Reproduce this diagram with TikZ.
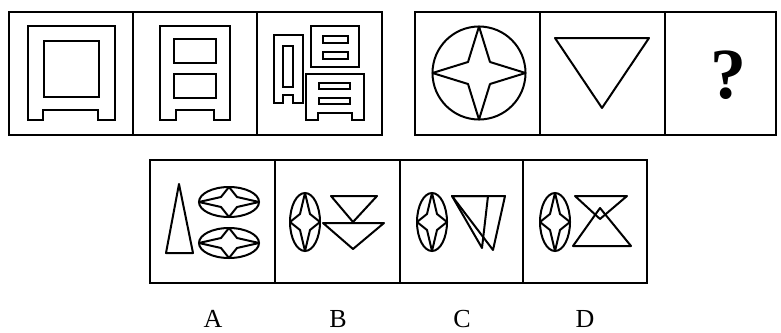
\documentclass[tikz,border=0pt]{standalone}
\usepackage{fontspec}
\setmainfont{Liberation Serif}
\tikzset{
  frame/.style={line width=2.2pt, line join=miter},
  glyph/.style={line width=2pt, line join=miter},
  stroke/.style={line width=2pt, line join=round},
  lab/.style={font=\fontsize{26}{26}\selectfont, anchor=base, inner sep=0pt}
}
\newcommand\fstar[6]{% cx cy rx ry ix iy
  \draw[stroke] (#1,#2-#4) -- (#1+#5,#2-#6) -- (#1+#3,#2) -- (#1+#5,#2+#6) -- (#1,#2+#4) -- (#1-#5,#2+#6) -- (#1-#3,#2) -- (#1-#5,#2-#6) -- cycle;}
\begin{document}
\begin{tikzpicture}[x=1pt,y=-1pt]
\useasboundingbox (0,0) rectangle (781,332);
% top-left strip
\draw[frame] (9,12) rectangle (382,135);
\draw[frame] (133,12) -- (133,135);
\draw[frame] (257,12) -- (257,135);
% panel 1
\draw[glyph] (28,26) -- (115,26) -- (115,120) -- (98,120) -- (98,110) -- (43,110) -- (43,120) -- (28,120) -- cycle;
\draw[glyph] (44,41) rectangle (99,97);
% panel 2
\draw[glyph] (160,26) -- (230,26) -- (230,120) -- (214,120) -- (214,110) -- (176,110) -- (176,120) -- (160,120) -- cycle;
\draw[glyph] (174,39) rectangle (216,63);
\draw[glyph] (174,74) rectangle (216,98);
% panel 3
\draw[glyph] (274,35) -- (303,35) -- (303,103) -- (293,103) -- (293,95) -- (283,95) -- (283,103) -- (274,103) -- cycle;
\draw[glyph] (283,46) rectangle (293,87);
\draw[glyph] (311,26) rectangle (359,67);
\draw[glyph] (323,36) rectangle (348,43);
\draw[glyph] (323,52) rectangle (348,59);
\draw[glyph] (306,74) -- (364,74) -- (364,120) -- (352,120) -- (352,113) -- (318,113) -- (318,120) -- (306,120) -- cycle;
\draw[glyph] (319,83) rectangle (350,89);
\draw[glyph] (319,98) rectangle (350,104);
% top-right strip
\draw[frame] (415,12) rectangle (776,135);
\draw[frame] (540,12) -- (540,135);
\draw[frame] (665,12) -- (665,135);
\draw[glyph] (479,73) circle (46.5pt);
\fstar{479}{73}{46.5}{46.5}{11}{11}
\draw[stroke] (555,38) -- (649,38) -- (602,108) -- cycle;
\node[font=\fontsize{72}{72}\selectfont\bfseries, anchor=base, inner sep=0pt] (q) at (728,98) {?};
% bottom strip
\draw[frame] (150,160) rectangle (647,283);
\draw[frame] (275,160) -- (275,283);
\draw[frame] (400,160) -- (400,283);
\draw[frame] (523,160) -- (523,283);
% A
\draw[stroke] (179,184) -- (193,253) -- (166,253) -- cycle;
\draw[glyph] (229,202) ellipse (30pt and 15pt);
\fstar{229}{202}{30}{15}{8}{5}
\draw[glyph] (229,243) ellipse (30pt and 15pt);
\fstar{229}{243}{30}{15}{8}{5}
% B
\draw[glyph] (305,222) ellipse (15pt and 29pt);
\fstar{305}{222}{15}{29}{5}{8}
\draw[stroke] (331,196) -- (377,196) -- (353,222) -- cycle;
\draw[stroke] (323,223) -- (384,223) -- (353,249) -- cycle;
% C
\draw[glyph] (432,222) ellipse (15pt and 29pt);
\fstar{432}{222}{15}{29}{5}{8}
\draw[stroke] (452,196) -- (488,196) -- (482,248) -- cycle;
\draw[stroke] (452,196) -- (505,196) -- (493,250) -- cycle;
% D
\draw[glyph] (555,222) ellipse (15pt and 29pt);
\fstar{555}{222}{15}{29}{5}{8}
\draw[stroke] (575,196) -- (627,196) -- (600,219) -- cycle;
\draw[stroke] (573,246) -- (631,246) -- (600,208) -- cycle;
% labels
\node[lab] (la) at (213,327) {A};
\node[lab] (lb) at (338,327) {B};
\node[lab] (lc) at (462,327) {C};
\node[lab] (ld) at (585,327) {D};
\end{tikzpicture}
\end{document}
